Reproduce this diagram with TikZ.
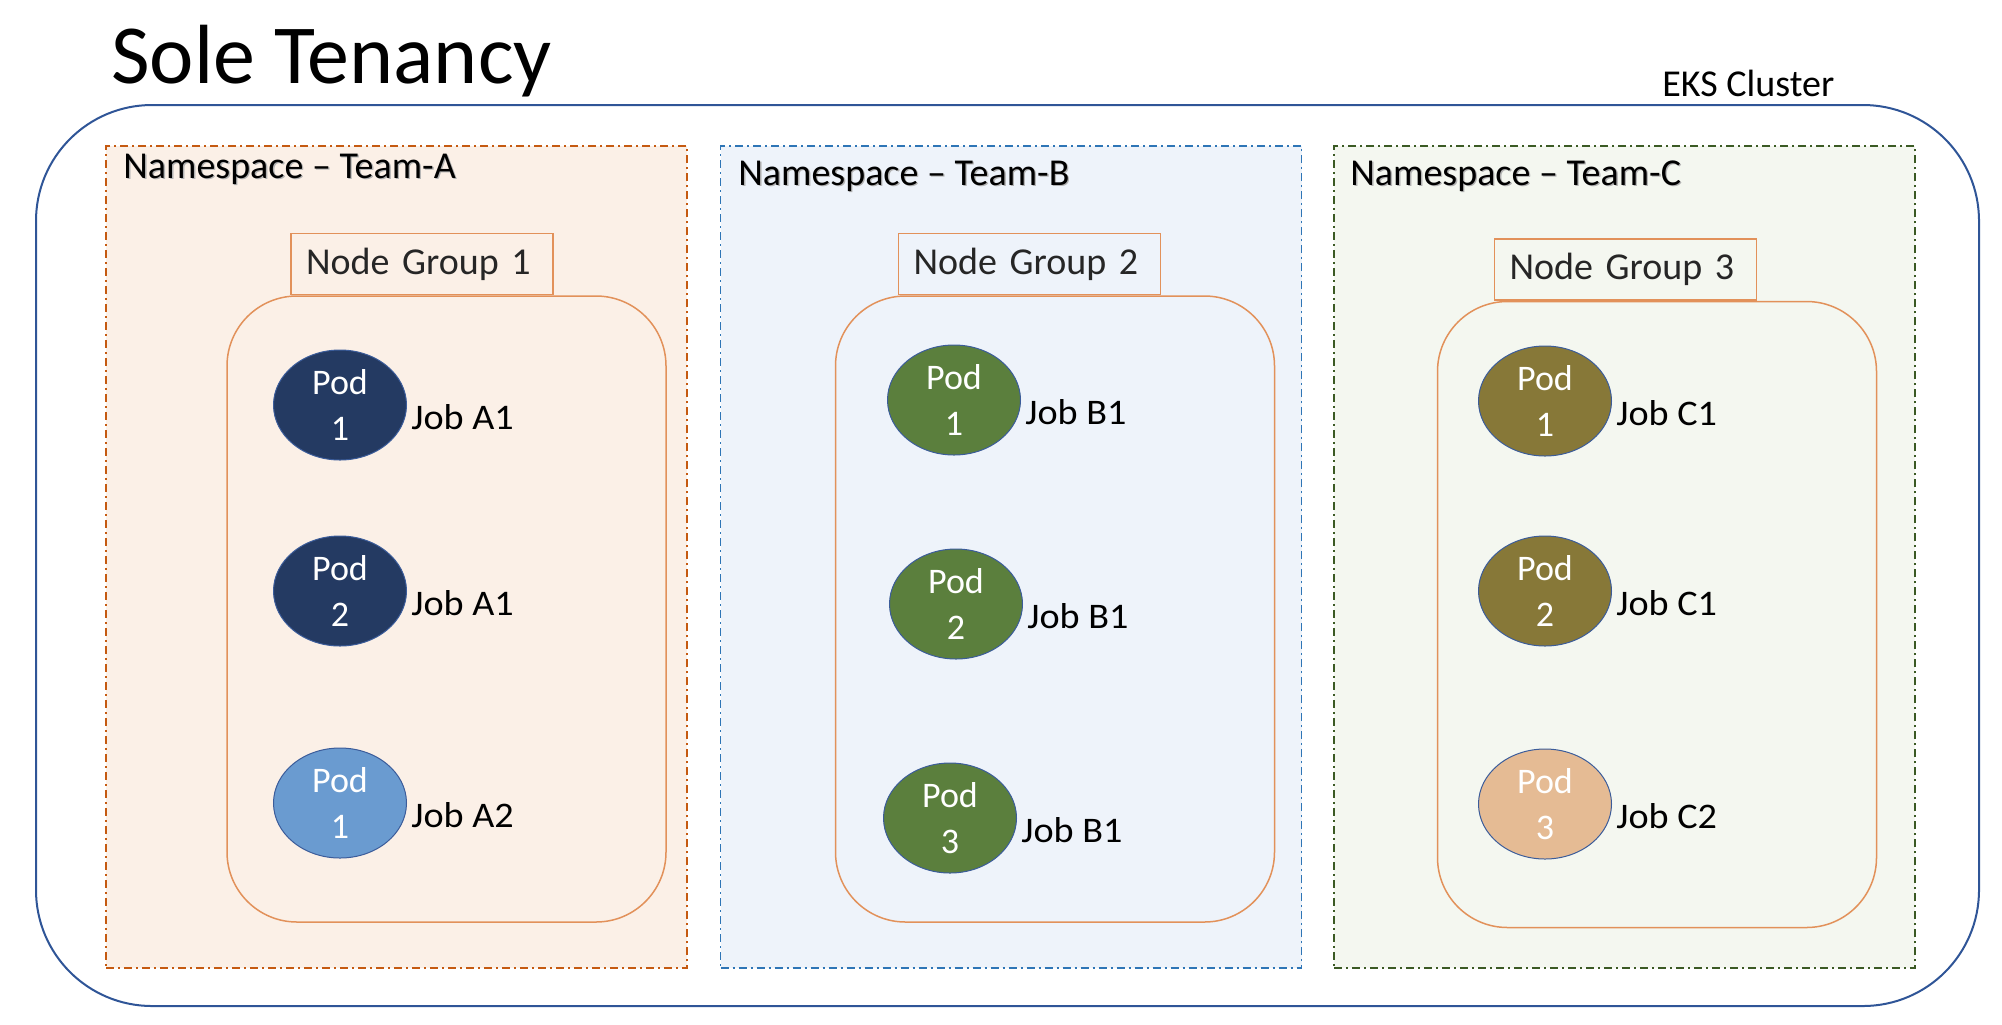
\documentclass[tikz,border=0pt]{standalone}
\usepackage{fontspec}
\setmainfont{Carlito}
\newfontfamily\jobfont{Carlito}[FakeStretch=1.06]
\usetikzlibrary{positioning,shapes.geometric}
\definecolor{clusterblue}{HTML}{2F5597}
\definecolor{nsAline}{HTML}{C55A11}
\definecolor{nsAfill}{HTML}{FBF0E7}
\definecolor{nsBline}{HTML}{2E75B6}
\definecolor{nsBfill}{HTML}{EEF3FA}
\definecolor{nsCline}{HTML}{3B5A24}
\definecolor{nsCfill}{HTML}{F4F7F0}
\definecolor{ngline}{HTML}{E2915A}
\definecolor{podnavy}{HTML}{243A62}
\definecolor{podsky}{HTML}{6A9BD0}
\definecolor{podgreen}{HTML}{5B7F3D}
\definecolor{podolive}{HTML}{877838}
\definecolor{podpeach}{HTML}{E5BB94}
\definecolor{podline}{HTML}{3B5C9A}
\newcommand{\nsshadow}[1]{\rlap{\textcolor{black!30}{\hspace{0.7pt}\raisebox{-0.9pt}{#1}}}#1}

\begin{document}
\begin{tikzpicture}[x=0.5pt,y=-0.5pt,
		cluster/.style={draw=clusterblue,line width=1pt,rounded corners=58pt,minimum width=971.5pt,minimum height=450.5pt,inner sep=0pt},
		namespace/.style={line width=0.75pt,dash pattern=on 4pt off 2pt on 1pt off 2pt,minimum width=290.5pt,minimum height=411pt,inner sep=0pt},
		nslabel/.style={anchor=base west,inner sep=0pt,font=\fontsize{19}{22}\selectfont},
		nglabel/.style={draw=ngline,line width=0.75pt,text width=116pt,align=left,inner xsep=7.5pt,inner ysep=0pt,minimum height=30.5pt,font=\fontsize{19}{22}\selectfont,text=black!85},
		ngbody/.style={draw=ngline,line width=0.75pt,rounded corners=35pt,minimum width=219.5pt,minimum height=313pt,inner sep=0pt},
		pod/.style={ellipse,draw=podline,line width=0.5pt,minimum width=66.5pt,minimum height=55pt,inner sep=0pt,text=white,align=center,font=\fontsize{18}{23}\selectfont},
		job/.style={inner sep=0pt,font=\jobfont\fontsize{18}{21}\selectfont,yshift=-6pt}
	]
	\useasboundingbox (0,0) rectangle (2002,1024);
	\node[anchor=base west,inner sep=0pt,font=\fontsize{42}{50}\selectfont] (title) at (111,83) {Sole Tenancy};
	\node[anchor=base west,inner sep=0pt,font=\fontsize{19}{22}\selectfont] (eks) at (1662,96) {EKS Cluster};
	\node[cluster] (cluster) at (1007.5,555.5) {};

	\node[namespace,draw=nsAline,fill=nsAfill] (nsA) at (396.5,557) {};
	\node[namespace,draw=nsBline,fill=nsBfill] (nsB) at (1011,557) {};
	\node[namespace,draw=nsCline,fill=nsCfill] (nsC) at (1624.5,557) {};
	\node[nslabel] (nslabA) at (123,178) {\nsshadow{Namespace -- Team-A}};
	\node[nslabel] (nslabB) at (738,185) {\nsshadow{Namespace -- Team-B}};
	\node[nslabel] (nslabC) at (1350,185) {\nsshadow{Namespace -- Team-C}};

	\node[ngbody] (ngA) at (446.5,609) {};
	\node[ngbody] (ngB) at (1055,609) {};
	\node[ngbody] (ngC) at (1657,614.5) {};
	\node[nglabel,above right=0pt and 32pt of ngA.north west] (nglabA) {Node Group 1};
	\node[nglabel,above right=0pt and 31.5pt of ngB.north west] (nglabB) {Node Group 2};
	\node[nglabel,above right=0pt and 28.5pt of ngC.north west] (nglabC) {Node Group 3};

	\node[pod,fill=podnavy] (podA1) at (340,405) {Pod\\1};
	\node[pod,fill=podnavy] (podA2) at (340,591) {Pod\\2};
	\node[pod,fill=podsky] (podA3) at (340,803) {Pod\\1};
	\node[job,right=2pt of podA1] (jobA1) {Job A1};
	\node[job,right=2pt of podA2] (jobA2) {Job A1};
	\node[job,right=2pt of podA3] (jobA3) {Job A2};

	\node[pod,fill=podgreen] (podB1) at (954,400) {Pod\\1};
	\node[pod,fill=podgreen] (podB2) at (956,604) {Pod\\2};
	\node[pod,fill=podgreen] (podB3) at (950,818) {Pod\\3};
	\node[job,right=2pt of podB1] (jobB1) {Job B1};
	\node[job,right=2pt of podB2] (jobB2) {Job B1};
	\node[job,right=2pt of podB3] (jobB3) {Job B1};

	\node[pod,fill=podolive] (podC1) at (1545,401) {Pod\\1};
	\node[pod,fill=podolive] (podC2) at (1545,591) {Pod\\2};
	\node[pod,fill=podpeach] (podC3) at (1545,804) {Pod\\3};
	\node[job,right=2pt of podC1] (jobC1) {Job C1};
	\node[job,right=2pt of podC2] (jobC2) {Job C1};
	\node[job,right=2pt of podC3] (jobC3) {Job C2};
\end{tikzpicture}
\end{document}
